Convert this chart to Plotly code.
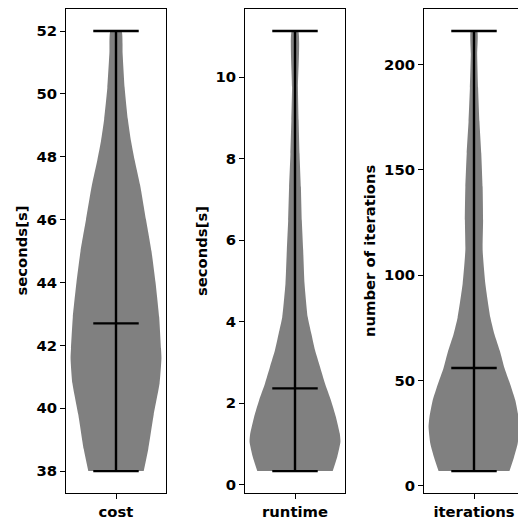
import plotly.graph_objects as go

# ---- data ----
categories = ["cost", "runtime", "iterations"]
y_titles = ["seconds[s]", "seconds[s]", "number of iterations"]

stat_min = [38.0, 0.33, 7.0]
stat_max = [52.0, 11.13, 216.0]
stat_mean = [42.7, 2.36, 56.0]

# estimated density profile (relative width, max = 1) along each variable
cost_levels = [38.0, 38.7, 39.8, 40.8, 41.6, 41.9, 42.9, 44.0, 45.0, 46.0, 47.1, 47.9, 48.5, 49.2, 50.2, 51.3, 52.0]
cost_density = [0.61, 0.71, 0.83, 0.96, 1.0, 0.99, 0.95, 0.87, 0.78, 0.66, 0.53, 0.41, 0.33, 0.26, 0.19, 0.145, 0.12]

runtime_levels = [0.33, 0.68, 1.05, 1.25, 1.66, 2.07, 2.48, 2.89, 3.30, 3.70, 4.11, 4.93, 5.75, 6.48, 7.30, 8.12, 8.94, 9.75, 11.13]
runtime_density = [0.83, 0.93, 1.0, 0.985, 0.90, 0.79, 0.66, 0.55, 0.44, 0.36, 0.28, 0.21, 0.18, 0.15, 0.13, 0.10, 0.08, 0.065, 0.07]

iter_levels = [7.0, 13.6, 20.0, 28.0, 32.6, 40.5, 48.0, 56.0, 64.0, 72.0, 80.0, 96.0, 112.0, 126.0, 142.0, 158.0, 173.0, 189.0, 205.0, 216.0]
iter_density = [0.78, 0.88, 0.96, 1.0, 0.98, 0.91, 0.80, 0.67, 0.57, 0.45, 0.36, 0.25, 0.19, 0.20, 0.19, 0.16, 0.12, 0.09, 0.07, 0.07]

y_ticks = [[38, 40, 42, 44, 46, 48, 50, 52], [0, 2, 4, 6, 8, 10], [0, 50, 100, 150, 200]]

levels = [cost_levels, runtime_levels, iter_levels]
densities = [cost_density, runtime_density, iter_density]

# ---- layout constants ----
OFF = 8  # page body margin
W, H = 526 - OFF, 525 - OFF
POS = 1.0
HALF = 0.25
CAP = 0.125
FONT = "DejaVu Sans"
FS = 14.8
x_px = [(66, 166), (245, 345), (424, 524)]
y_top, y_bot = 8, 494
label_x = [21.5, 201, 369]

fig = go.Figure()
for i in range(3):
    xa = "x" if i == 0 else f"x{i+1}"
    ya = "y" if i == 0 else f"y{i+1}"
    lv, dn = levels[i], densities[i]
    xs = [POS + HALF * d for d in dn] + [POS - HALF * d for d in reversed(dn)]
    ys = list(lv) + list(reversed(lv))
    fig.add_trace(go.Scatter(x=xs, y=ys, mode="lines", fill="toself",
                             fillcolor="#808080", line=dict(width=0, shape="spline", smoothing=0.5),
                             xaxis=xa, yaxis=ya, showlegend=False, hoverinfo="skip"))
    lx = [POS, POS, None]
    ly = [stat_min[i], stat_max[i], None]
    for v in (stat_min[i], stat_max[i], stat_mean[i]):
        lx += [POS - CAP, POS + CAP, None]
        ly += [v, v, None]
    fig.add_trace(go.Scatter(x=lx, y=ly, mode="lines", line=dict(color="black", width=2.4),
                             xaxis=xa, yaxis=ya, showlegend=False, hoverinfo="skip"))

    span = stat_max[i] - stat_min[i]
    axis_common = dict(showline=True, linecolor="black", linewidth=1.1, mirror=True,
                       ticks="outside", ticklen=5, tickwidth=1.1, tickcolor="black",
                       showgrid=False, zeroline=False,
                       tickfont=dict(family=FONT, size=FS, color="black", weight="bold"))
    fig.layout[f"xaxis{'' if i == 0 else i+1}"] = dict(
        domain=[(x_px[i][0] - OFF) / W, min(1.0, (x_px[i][1] - OFF) / W)], anchor=ya,
        range=[POS - HALF * 1.1, POS + HALF * 1.1], tickvals=[POS], ticktext=[categories[i]],
        **axis_common)
    fig.layout[f"yaxis{'' if i == 0 else i+1}"] = dict(
        domain=[1 - (y_bot - OFF) / H, 1 - (y_top - OFF) / H], anchor=xa,
        range=[stat_min[i] - 0.05 * span, stat_max[i] + 0.05 * span], tickvals=y_ticks[i],
        **axis_common)
    fig.add_annotation(text=f"<b>{y_titles[i]}</b>", xref="paper", yref="paper",
                       x=(label_x[i] - OFF) / W, y=1 - ((y_top + y_bot) / 2 - OFF) / H, textangle=-90,
                       showarrow=False, xanchor="center", yanchor="middle",
                       font=dict(family=FONT, size=FS, color="black"))

fig.update_layout(width=W, height=H, margin=dict(l=0, r=0, t=0, b=0),
                  plot_bgcolor="white", paper_bgcolor="white")
fig.write_html("out.html")
